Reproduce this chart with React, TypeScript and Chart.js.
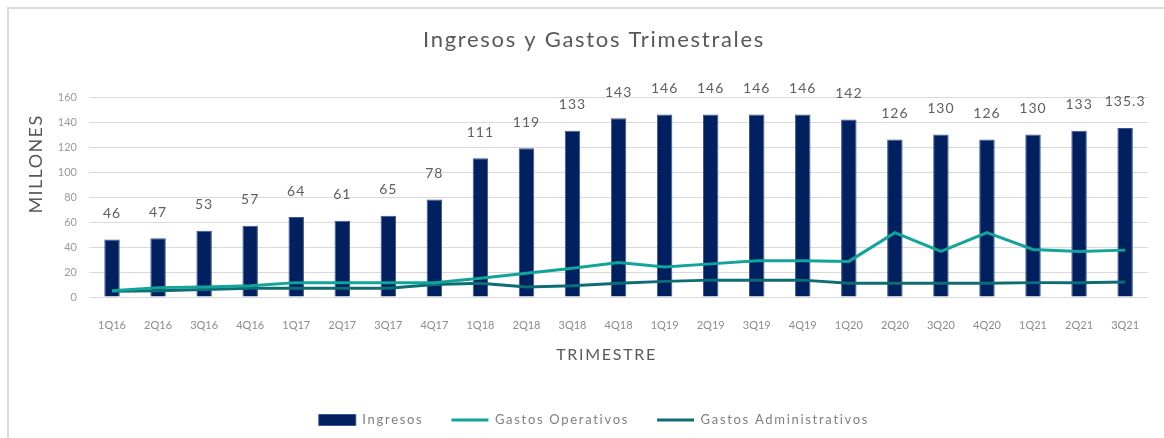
import React, { useEffect, useRef } from "react";
import { Chart, registerables } from "chart.js";

Chart.register(...registerables);

const categories = [
  "1Q16", "2Q16", "3Q16", "4Q16", "1Q17", "2Q17", "3Q17", "4Q17",
  "1Q18", "2Q18", "3Q18", "4Q18", "1Q19", "2Q19", "3Q19", "4Q19",
  "1Q20", "2Q20", "3Q20", "4Q20", "1Q21", "2Q21", "3Q21",
];
const ingresos = [46, 47, 53, 57, 64, 61, 65, 78, 111, 119, 133, 143, 146, 146, 146, 146, 142, 126, 130, 126, 130, 133, 135.3];
const gastosOperativos = [5, 7.5, 8, 9, 11.5, 11.5, 11.5, 11.5, 15, 19, 23, 27.5, 24, 26.5, 29, 29, 28.5, 51.5, 36.5, 51.5, 38, 36.5, 37.5];
const gastosAdministrativos = [4.5, 5, 6, 7, 7, 7, 7, 10, 11, 8, 9, 11, 12.5, 13.5, 13.5, 13.5, 11, 11, 11, 11, 11.5, 11.5, 12];
const seriesNames = ["Ingresos", "Gastos Operativos", "Gastos Administrativos"];
const yMin = 0;
const yMax = 160;
const yStep = 20;

const FONT = "Lato, 'Open Sans', sans-serif";
const BAR_COLOR = "#002060";
const BAR_BORDER = "#3a5597";
const OPER_COLOR = "#12a39a";
const ADMIN_COLOR = "#0e6c75";

const textPlugin = {
  id: "textPlugin",
  beforeLayout(chart: any) {
    chart.ctx.letterSpacing = "1.7px";
  },
  afterLayout(chart: any) {
    chart.ctx.letterSpacing = "0px";
  },
  beforeDraw(chart: any) {
    chart.ctx.letterSpacing = "1.7px";
  },
  afterDatasetsDraw(chart: any) {
    chart.ctx.letterSpacing = "0px";
  },
  afterDraw(chart: any) {
    const ctx = chart.ctx;
    const area = chart.chartArea;
    const meta = chart.getDatasetMeta(0);
    ctx.save();
    ctx.letterSpacing = "1px";
    ctx.font = `14px ${FONT}`;
    ctx.fillStyle = "#5f5f5f";
    ctx.textAlign = "center";
    ctx.textBaseline = "middle";
    meta.data.forEach((bar: any, i: number) => {
      ctx.fillText(String(ingresos[i]), bar.x, bar.y - 26);
    });
    ctx.restore();

    // y axis title
    ctx.save();
    ctx.letterSpacing = "1.4px";
    ctx.font = `18px ${FONT}`;
    ctx.fillStyle = "#595959";
    ctx.textAlign = "center";
    ctx.textBaseline = "middle";
    ctx.translate(area.left - 53, area.top + 67);
    ctx.rotate(-Math.PI / 2);
    ctx.fillText("MILLONES", 0, 0);
    ctx.restore();

    // x axis title
    ctx.save();
    ctx.letterSpacing = "1.7px";
    ctx.font = `16px ${FONT}`;
    ctx.fillStyle = "#595959";
    ctx.textAlign = "center";
    ctx.textBaseline = "middle";
    ctx.fillText("TRIMESTRE", (area.left + area.right) / 2 - 12, area.bottom + 57.5);
    ctx.restore();
  },
};

export default function App() {
  const canvasRef = useRef<HTMLCanvasElement | null>(null);

  useEffect(() => {
    if (!canvasRef.current) return;
    const chart = new Chart(canvasRef.current, {
      type: "bar",
      data: {
        labels: categories,
        datasets: [
          {
            type: "bar",
            label: seriesNames[0],
            data: ingresos,
            backgroundColor: BAR_COLOR,
            borderColor: BAR_BORDER,
            borderWidth: 1,
            categoryPercentage: 0.8,
            barPercentage: 0.42,
            order: 2,
          },
          {
            type: "line",
            label: seriesNames[1],
            data: gastosOperativos,
            borderColor: OPER_COLOR,
            backgroundColor: OPER_COLOR,
            borderWidth: 3,
            pointRadius: 0,
            tension: 0,
            order: 0,
          },
          {
            type: "line",
            label: seriesNames[2],
            data: gastosAdministrativos,
            borderColor: ADMIN_COLOR,
            backgroundColor: ADMIN_COLOR,
            borderWidth: 3,
            pointRadius: 0,
            tension: 0,
            order: 1,
          },
        ] as any,
      },
      options: {
        responsive: false,
        animation: false,
        devicePixelRatio: 1,
        layout: { padding: { left: 29, right: 5, top: 0, bottom: 1.5 } },
        plugins: {
          title: {
            display: true,
            text: "Ingresos y Gastos Trimestrales",
            color: "#595959",
            font: { family: FONT, size: 22, weight: "normal" },
            padding: { top: 27, bottom: 43.6 },
          },
          legend: {
            position: "bottom",
            labels: {
              font: { family: FONT, size: 13 },
              color: "#7f7f7f",
              usePointStyle: true,
              pointStyleWidth: 37,
              boxHeight: 11,
              padding: 28,
              generateLabels: (c: any) =>
                c.data.datasets.map((ds: any, i: number) => ({
                  text: ds.label,
                  fillStyle: ds.backgroundColor,
                  strokeStyle: ds.borderColor,
                  lineWidth: i === 0 ? 1 : 3,
                  pointStyle: i === 0 ? "rect" : "line",
                  hidden: false,
                  datasetIndex: i,
                  fontColor: "#7f7f7f",
                })),
            },
          },
          tooltip: { enabled: false },
        },
        scales: {
          x: {
            grid: { display: false, drawTicks: false },
            border: { display: false },
            ticks: {
              font: { family: FONT, size: 11 },
              color: "#8c8c8c",
              padding: 21.4,
              autoSkip: false,
              maxRotation: 0,
              minRotation: 0,
              z: 1,
            },
            afterFit: (scale: any) => {
              scale.height = 88.5;
            },
          },
          y: {
            min: yMin,
            max: yMax,
            grid: { color: "#d9d9d9", lineWidth: 1, drawTicks: false },
            border: { display: false },
            ticks: {
              stepSize: yStep,
              font: { family: FONT, size: 11 },
              color: "#9a9a9a",
              padding: 12,
              z: 1,
            },
            afterFit: (scale: any) => {
              scale.width = 60;
            },
          },
        },
      } as any,
      plugins: [textPlugin],
    });
    return () => chart.destroy();
  }, []);

  return (
    <div style={{ position: "absolute", left: 0, top: 0, width: 1164, height: 438, background: "#fff", overflow: "hidden" }}>
      <div
        style={{
          position: "absolute",
          left: 7,
          top: 7,
          width: 1200,
          height: 440,
          borderTop: "2px solid #dadada",
          borderLeft: "2px solid #dadada",
        }}
      />
      <canvas ref={canvasRef} width={1164} height={438} style={{ position: "absolute", left: 0, top: 0 }} />
    </div>
  );
}
